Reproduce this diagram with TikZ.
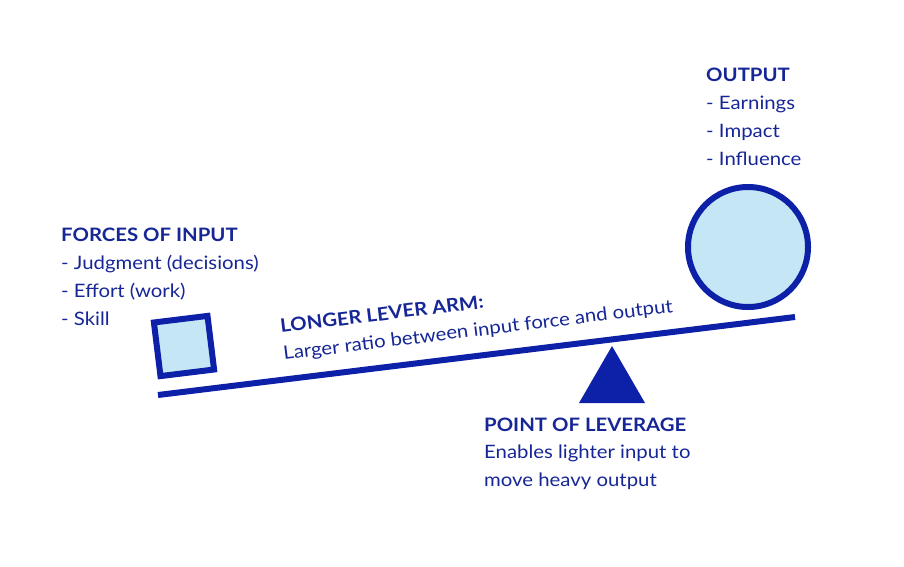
\documentclass[tikz,border=0pt]{standalone}
\usepackage{fontspec}
\setmainfont{Lato}[FakeStretch=1.1]
\definecolor{dblue}{RGB}{12,32,168}
\definecolor{tblue}{RGB}{22,38,150}
\definecolor{lblue}{RGB}{197,230,245}
\begin{document}
\begin{tikzpicture}[x=1pt,y=-1pt,
  thing/.style={draw=dblue,line width=6pt,fill=lblue},
  head/.style={anchor=base west,inner sep=0pt,text=tblue,font=\fontsize{18.5}{22}\selectfont\bfseries},
  body/.style={anchor=base west,inner sep=0pt,text=tblue,font=\fontsize{18.5}{22}\selectfont}]
\useasboundingbox (0,0) rectangle (904,566);
% lever
\coordinate (L) at (158,395);
\coordinate (R) at (795,317);
\draw[dblue,line width=6pt] (L) -- (R);
% fulcrum
\path[fill=dblue] (612,346) coordinate (apex) -- (645,403) -- (579,403) -- cycle;
% input square
\node[thing,rotate=7,minimum size=54pt,inner sep=0pt] (sq) at (184,346) {};
% output circle
\node[thing,circle,minimum size=120pt,inner sep=0pt] (ci) at (748,247) {};
% texts
\node[head] (fi) at (61,241) {FORCES OF INPUT};
\node[body] (f1) at (61,269) {- Judgment (decisions)};
\node[body] (f2) at (61,297) {- Effort (work)};
\node[body] (f3) at (61,325) {- Skill};
\node[head] (o) at (706,81) {OUTPUT};
\node[body] (o1) at (706,109) {- Earnings};
\node[body] (o2) at (706,137) {- Impact};
\node[body] (o3) at (706,165) {- Influence};
\node[head] (p) at (484,431) {POINT OF LEVERAGE};
\node[body] (p1) at (484,458) {Enables lighter input to};
\node[body] (p2) at (484,486) {move heavy output};
\node[head,rotate=7] (la) at (281,333) {LONGER LEVER ARM:};
\node[body,rotate=7] (lb) at (284,360) {Larger ratio between input force and output};
\end{tikzpicture}
\end{document}
